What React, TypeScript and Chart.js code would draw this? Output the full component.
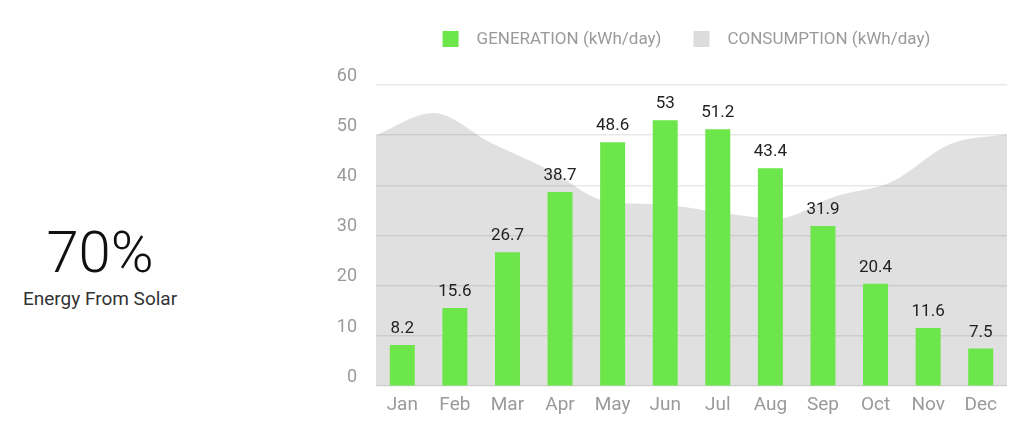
import { useEffect, useRef } from 'react';
import { Chart, registerables } from 'chart.js';
import type { Plugin } from 'chart.js';

Chart.register(...registerables);

const months = ['Jan', 'Feb', 'Mar', 'Apr', 'May', 'Jun', 'Jul', 'Aug', 'Sep', 'Oct', 'Nov', 'Dec'];
const generation = [8.2, 15.6, 26.7, 38.7, 48.6, 53, 51.2, 43.4, 31.9, 20.4, 11.6, 7.5];
// consumption is drawn edge to edge on its own hidden axis
const consumption = [50, 54.4, 48.5, 43.2, 36.9, 36.2, 34.6, 33.4, 37.8, 40.8, 48.2, 50.2];
const yTicks = [0, 10, 20, 30, 40, 50, 60];

const FONT = 'Roboto, "Noto Sans", sans-serif';
const GREEN = '#6ce64a';
const AREA = 'rgba(0,0,0,0.12)';

// value labels above each bar
const barValues: Plugin<'bar'> = {
  id: 'barValues',
  afterDatasetsDraw(chart) {
    const ctx = chart.ctx;
    const meta = chart.getDatasetMeta(0);
    ctx.save();
    ctx.font = `17px ${FONT}`;
    ctx.fillStyle = '#222';
    ctx.textAlign = 'center';
    ctx.textBaseline = 'alphabetic';
    meta.data.forEach((bar, i) => {
      ctx.fillText(String(generation[i]), bar.x, bar.y - 12);
    });
    ctx.restore();
  },
};

// legend row drawn above the plot, roughly centred on the chart area
const topLegend: Plugin = {
  id: 'topLegend',
  afterDraw(chart) {
    const ctx = chart.ctx;
    const box = 16;
    const gap = 18;
    const itemGap = 32;
    const y = 39;
    ctx.save();
    ctx.font = `17px ${FONT}`;
    const items = chart.data.datasets.map((ds: any) => ({
      text: ds.label as string,
      color: ds.type === 'line' ? '#dcdcdc' : (ds.backgroundColor as string),
      w: ctx.measureText(ds.label).width,
    }));
    const total =
      items.reduce((s, it) => s + box + gap + it.w, 0) + itemGap * (items.length - 1);
    let x = (chart.chartArea.left + chart.chartArea.right) / 2 - total / 2 - 5;
    ctx.textBaseline = 'middle';
    ctx.textAlign = 'left';
    items.forEach((it) => {
      ctx.fillStyle = it.color;
      ctx.fillRect(x, y - box / 2, box, box);
      x += box + gap;
      ctx.fillStyle = '#9a9a9a';
      ctx.fillText(it.text, x, y + 1);
      x += it.w + itemGap;
    });
    ctx.restore();
  },
};

function SolarChart() {
  const canvasRef = useRef<HTMLCanvasElement>(null);

  useEffect(() => {
    if (!canvasRef.current) return;
    const chart = new Chart(canvasRef.current, {
      type: 'bar',
      data: {
        labels: months,
        datasets: [
          {
            type: 'bar',
            label: 'GENERATION (kWh/day)',
            data: generation,
            backgroundColor: GREEN,
            borderWidth: 0,
            grouped: false,
            maxBarThickness: 25,
            xAxisID: 'x',
          },
          {
            type: 'line',
            label: 'CONSUMPTION (kWh/day)',
            data: consumption,
            backgroundColor: AREA,
            borderColor: 'rgba(0,0,0,0)',
            borderWidth: 0,
            pointRadius: 0,
            fill: 'origin',
            cubicInterpolationMode: 'monotone',
            xAxisID: 'x2',
          } as any,
        ],
      },
      options: {
        animation: false,
        responsive: false,
        layout: { padding: { top: 85, right: 17, bottom: 11, left: 0 } },
        plugins: {
          tooltip: { enabled: false },
          legend: { display: false },
        },
        scales: {
          x: {
            grid: { display: false, drawTicks: false },
            border: { display: false },
            ticks: { color: '#9a9a9a', padding: 8, font: { family: FONT, size: 19 } },
          },
          x2: {
            type: 'category',
            labels: months,
            offset: false,
            display: false,
          },
          y: {
            min: 0,
            max: 60,
            afterFit(scale) {
              scale.width = 56;
            },
            afterBuildTicks(scale) {
              scale.ticks = yTicks.map((v) => ({ value: v }));
            },
            grid: { color: 'rgba(0,0,0,0.09)', drawTicks: false, lineWidth: 1.5 },
            border: { display: false },
            ticks: {
              color: '#9a9a9a',
              padding: 19,
              labelOffset: -9,
              font: { family: FONT, size: 18 },
            },
          },
        },
      },
      plugins: [barValues as Plugin, topLegend],
    });
    return () => chart.destroy();
  }, []);

  return (
    <canvas
      ref={canvasRef}
      width={704}
      height={436}
      style={{ position: 'absolute', left: 320, top: 0, width: 704, height: 436 }}
    />
  );
}

export default function App() {
  return (
    <div
      style={{
        position: 'fixed',
        left: 0,
        top: 0,
        width: 1024,
        height: 436,
        background: '#fff',
        fontFamily: FONT,
        overflow: 'hidden',
      }}
    >
      <div
        style={{
          position: 'absolute',
          left: 0,
          top: 223,
          width: 200,
          textAlign: 'center',
          fontSize: 58,
          lineHeight: '58px',
          fontWeight: 300,
          color: '#111',
        }}
      >
        70%
      </div>
      <div
        style={{
          position: 'absolute',
          left: 0,
          top: 289,
          width: 200,
          textAlign: 'center',
          fontSize: 19,
          lineHeight: '19px',
          color: '#333',
        }}
      >
        Energy From Solar
      </div>
      <SolarChart />
    </div>
  );
}
